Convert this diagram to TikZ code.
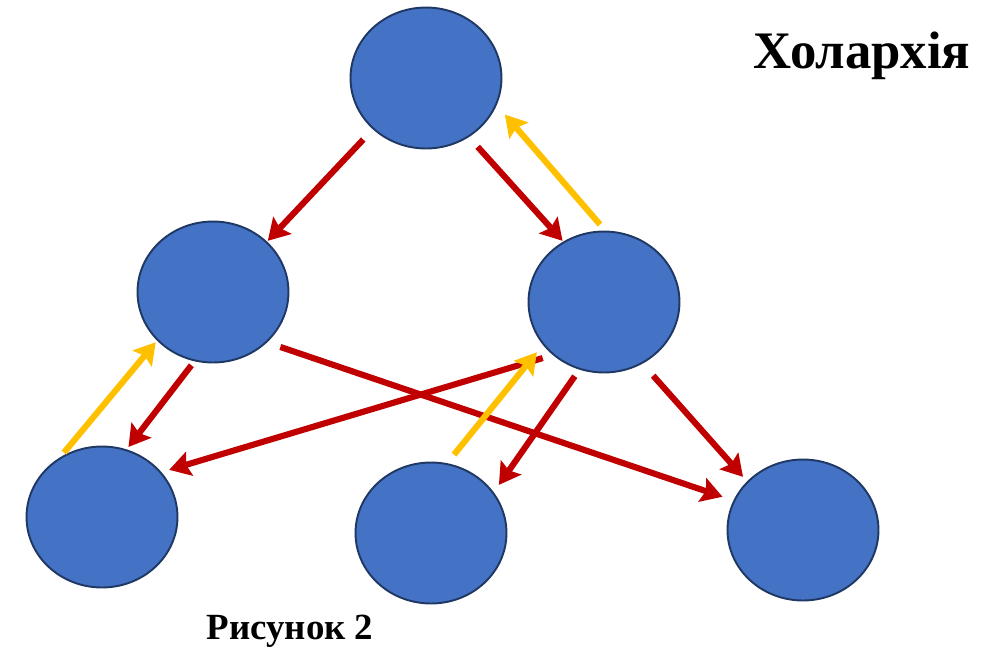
\documentclass[tikz,border=0pt]{standalone}
\usepackage{fontspec}
\setmainfont{Liberation Serif}
\usepackage{xcolor}
\usetikzlibrary{shapes.geometric,arrows.meta}

\definecolor{holonblue}{HTML}{4472C4}
\definecolor{holonedge}{HTML}{203864}
\definecolor{linkred}{HTML}{C00000}
\definecolor{linkgold}{HTML}{FFC000}

\begin{document}
\begin{tikzpicture}[x=0.02cm, y=-0.02cm,
	holon/.style={ellipse, draw=holonedge, line width=1.1pt, fill=holonblue, minimum width=3.02cm, minimum height=2.82cm, inner sep=0pt},
	downlink/.style={draw=linkred, line width=3.5pt, -{Stealth[length=12pt, width=14pt, inset=2pt]}},
	uplink/.style={draw=linkgold, line width=3.5pt, -{Stealth[length=12pt, width=14pt, inset=2pt]}}]
	\useasboundingbox (0,0) rectangle (1002,647);

	% Holons
	\node[holon] (top) at (426,78) {};
	\node[holon] (midl) at (213,292) {};
	\node[holon] (midr) at (604,302) {};
	\node[holon] (botl) at (102,517) {};
	\node[holon] (botm) at (431,533) {};
	\node[holon] (botr) at (803,530) {};

	% Downward links
	\draw[downlink, shorten <=0.28cm, shorten >=0.02cm] (top.224) -- (midl.43);
	\draw[downlink, shorten <=0.26cm, shorten >=0.02cm] (top.306) -- (midr.124);
	\draw[downlink, shorten <=0.10cm, shorten >=0.06cm] (midl.255) -- (botl.70);
	\draw[downlink, shorten <=0.28cm, shorten >=0.23cm] (midl.317) -- (botr.157);
	\draw[downlink, shorten <=0.21cm, shorten >=0.16cm] (midr.226) -- (botl.37);
	\draw[downlink, shorten <=0.16cm, shorten >=0.18cm] (midr.250) -- (botm.33);
	\draw[downlink, shorten <=0.32cm, shorten >=0.12cm] (midr.302) -- (botr.139);

	% Upward links
	\draw[uplink, shorten <=0.16cm, shorten >=0.25cm] (midr.89) -- (top.339);
	\draw[uplink, shorten <=0.12cm, shorten >=0.04cm] (botl.125) -- (midl.221);
	\draw[uplink, shorten <=0.22cm, shorten >=0.19cm] (botm.77) -- (midr.215);

	% Labels
	\node[font=\bfseries\fontsize{30}{36}\selectfont, anchor=base] (title) at (862,68) {Холархія};
	\node[font=\bfseries\fontsize{21}{25}\selectfont, anchor=base] (caption) at (290,639) {Рисунок 2};
\end{tikzpicture}
\end{document}
